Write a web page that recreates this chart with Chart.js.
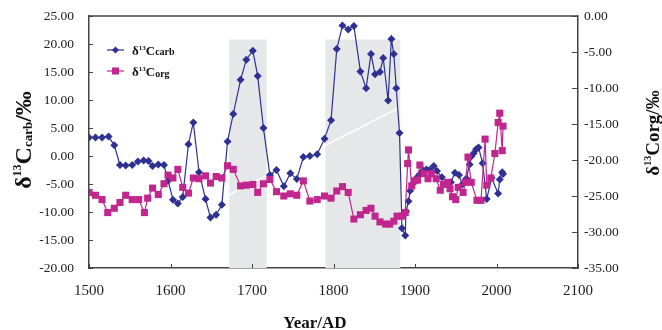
<!DOCTYPE html>
<html>
<head>
<meta charset="utf-8">
<script src="https://cdn.jsdelivr.net/npm/chart.js@4.4.1/dist/chart.umd.min.js"></script>
<style>
  html, body { margin: 0; padding: 0; background: #fff; }
  #wrap { width: 662px; height: 330px; }
</style>
</head>
<body>
<div id="wrap"><canvas id="myChart" width="662" height="330"></canvas></div>
<script>
// d13C carb (left axis)
var carbYear = [1500, 1508, 1516, 1524, 1531, 1538, 1545, 1553, 1560, 1567, 1573, 1578, 1585, 1592, 1597, 1603, 1609, 1615, 1622, 1628,
  1635, 1643, 1649, 1656, 1663, 1670, 1677, 1686, 1693, 1701, 1707, 1714, 1722, 1730, 1739, 1747, 1755, 1763, 1771, 1780,
  1789, 1797, 1804, 1811, 1818, 1825, 1833, 1840, 1846, 1851, 1857, 1861, 1867, 1871, 1874, 1877, 1881, 1884, 1888, 1889,
  1892, 1894, 1898, 1902, 1906, 1910, 1914, 1918, 1923, 1927, 1933, 1939, 1944, 1949, 1954, 1958, 1963, 1967, 1969, 1972,
  1975, 1978, 1983, 1988, 1994, 2002, 2004, 2007, 2008];
var carbValue = [3.3, 3.3, 3.3, 3.5, 1.9, -1.6, -1.7, -1.6, -1.0, -0.8, -0.9, -1.8, -1.5, -1.6, -4.4, -7.8, -8.5, -7.3, 2.1, 6.0,
  -2.9, -7.7, -11.0, -10.5, -8.7, 2.6, 7.5, 13.6, 17.2, 18.8, 14.3, 5.0, -3.4, -2.5, -5.4, -3.1, -4.1, -0.2, 0.0, 0.3,
  3.1, 6.4, 19.1, 23.3, 22.6, 23.2, 15.1, 12.1, 18.2, 14.6, 15.0, 17.5, 9.9, 20.9, 18.2, 12.1, 4.1, -12.9, -14.2, -9.9,
  -8.1, -6.2, -4.8, -3.9, -3.2, -2.6, -2.4, -2.5, -1.8, -2.7, -3.8, -4.8, -4.7, -3.0, -3.4, -5.1, -4.0, -1.5, -0.1, 0.5,
  1.2, 1.5, -1.3, -7.7, -3.9, -6.7, -4.2, -2.9, -3.2];

// d13C org (right axis)
var orgYear = [1500, 1508, 1516, 1523, 1531, 1538, 1545, 1553, 1561, 1568, 1572, 1578, 1585, 1592, 1597, 1603, 1609, 1615, 1622, 1628,
  1635, 1643, 1649, 1656, 1663, 1670, 1677, 1686, 1693, 1701, 1707, 1714, 1722, 1730, 1739, 1747, 1755, 1763, 1771, 1780,
  1789, 1797, 1804, 1811, 1818, 1825, 1833, 1840, 1846, 1851, 1857, 1864, 1869, 1874, 1878, 1884, 1888, 1891, 1892, 1896,
  1899, 1903, 1906, 1911, 1916, 1920, 1926, 1931, 1935, 1940, 1943, 1946, 1950, 1953, 1959, 1962, 1965, 1969, 1976, 1981,
  1986, 1988, 1993, 1998, 2002, 2004, 2007, 2008];
var orgValue = [-24.5, -24.9, -25.5, -27.3, -26.7, -25.9, -24.9, -25.5, -25.5, -27.3, -25.3, -23.9, -24.8, -23.3, -22.1, -22.5, -21.3, -23.8, -24.6, -22.5,
  -22.6, -22.2, -23.2, -22.3, -22.5, -20.8, -21.3, -23.6, -23.5, -23.4, -24.5, -23.3, -22.7, -24.4, -25.0, -24.7, -24.9, -22.9, -25.7, -25.5,
  -25.0, -25.3, -24.3, -23.7, -24.5, -28.2, -27.6, -27.0, -26.7, -27.8, -28.6, -28.9, -28.9, -28.5, -27.8, -27.8, -27.3, -20.5, -18.6, -23.6,
  -22.9, -22.8, -20.7, -21.9, -22.6, -21.9, -22.6, -24.2, -23.4, -23.1, -24.0, -25.1, -25.5, -23.8, -24.5, -23.1, -19.6, -23.1, -25.6, -25.6,
  -17.1, -23.5, -22.5, -19.1, -14.8, -13.5, -18.7, -15.3];

// white trend line and grey periods
var trendYear = [1671, 1880];
var trendValue = [-7.0, 8.6];
var shadeStart = [1672, 1790];
var shadeEnd = [1718, 1882];
var shadeTop = 20.8;

var xTicks = [1500, 1600, 1700, 1800, 1900, 2000, 2100];
var leftTicks = [-20, -15, -10, -5, 0, 5, 10, 15, 20, 25];
var rightTicks = [-35, -30, -25, -20, -15, -10, -5, 0];

var carbColor = '#2e3192';
var orgColor = '#c0268e';
var axisColor = '#444';
var SERIF = '"Liberation Serif", "DejaVu Serif", serif';

function pts(xs, ys) {
  return xs.map(function (x, i) { return { x: x, y: ys[i] }; });
}
function fnt(size, weight) {
  return (weight || 'normal') + ' ' + size + 'px ' + SERIF;
}
// draw text made of pieces (sup/sub), returns width
function richText(ctx, parts, x, y, measureOnly) {
  var w = 0;
  parts.forEach(function (p) {
    ctx.font = fnt(p.size, 'bold');
    if (!measureOnly) ctx.fillText(p.t, x + w, y + (p.dy || 0));
    w += ctx.measureText(p.t).width;
  });
  return w;
}

var shadePlugin = {
  id: 'shade',
  beforeDatasetsDraw: function (chart) {
    var ctx = chart.ctx, xs = chart.scales.x, ys = chart.scales.y, area = chart.chartArea;
    ctx.save();
    ctx.fillStyle = '#e6e7e8';
    for (var i = 0; i < shadeStart.length; i++) {
      var x0 = xs.getPixelForValue(shadeStart[i]);
      var x1 = xs.getPixelForValue(shadeEnd[i]);
      var yt = ys.getPixelForValue(shadeTop);
      ctx.fillRect(x0, yt, x1 - x0, area.bottom - yt);
    }
    ctx.restore();
  }
};

var decoPlugin = {
  id: 'deco',
  afterDraw: function (chart) {
    var ctx = chart.ctx, a = chart.chartArea;
    var xs = chart.scales.x, ys = chart.scales.y, y2 = chart.scales.y2;
    ctx.save();
    // frame top + inward ticks
    ctx.strokeStyle = axisColor;
    ctx.lineWidth = 1.5;
    ctx.beginPath();
    ctx.moveTo(a.left, a.top);
    ctx.lineTo(a.right, a.top);
    ctx.stroke();
    ctx.lineWidth = 1;
    ctx.beginPath();
    xTicks.forEach(function (v) {
      var px = Math.round(xs.getPixelForValue(v)) + 0.5;
      ctx.moveTo(px, a.bottom);
      ctx.lineTo(px, a.bottom - 4);
    });
    leftTicks.forEach(function (v) {
      var py = Math.round(ys.getPixelForValue(v)) + 0.5;
      ctx.moveTo(a.left, py);
      ctx.lineTo(a.left + 4, py);
    });
    rightTicks.forEach(function (v) {
      var py = Math.round(y2.getPixelForValue(v)) + 0.5;
      ctx.moveTo(a.right, py);
      ctx.lineTo(a.right - 6, py);
    });
    ctx.stroke();

    // legend
    var rows = [
      { y: 50, color: carbColor, style: 'diamond', parts: [{ t: '\u03b4', size: 13 }, { t: '13', size: 7, dy: -5 }, { t: 'C', size: 13 }, { t: 'carb', size: 10 }] },
      { y: 71, color: orgColor, style: 'square', parts: [{ t: '\u03b4', size: 13 }, { t: '13', size: 7, dy: -5 }, { t: 'C', size: 13 }, { t: 'org', size: 10, dy: 1 }] }
    ];
    rows.forEach(function (r) {
      ctx.strokeStyle = r.color;
      ctx.fillStyle = r.color;
      ctx.lineWidth = 1.2;
      ctx.beginPath();
      ctx.moveTo(107, r.y);
      ctx.lineTo(124, r.y);
      ctx.stroke();
      ctx.beginPath();
      if (r.style === 'diamond') {
        ctx.moveTo(115.5, r.y - 3.5); ctx.lineTo(119, r.y); ctx.lineTo(115.5, r.y + 3.5); ctx.lineTo(112, r.y);
        ctx.closePath(); ctx.fill();
      } else {
        ctx.fillRect(112, r.y - 3.5, 7, 7);
      }
      ctx.fillStyle = '#111';
      ctx.textBaseline = 'alphabetic';
      ctx.textAlign = 'left';
      richText(ctx, r.parts, 132, r.y + 5);
    });

    // axis titles
    ctx.fillStyle = '#111';
    ctx.textBaseline = 'alphabetic';
    ctx.textAlign = 'left';
    var lt = [{ t: '\u03b4', size: 24 }, { t: '13', size: 12, dy: -10 }, { t: 'C', size: 24 }, { t: 'carb', size: 13, dy: 1 }, { t: '/\u2030', size: 24 }];
    ctx.save();
    ctx.translate(31, 140);
    ctx.rotate(-Math.PI / 2);
    var w = richText(ctx, lt, 0, 0, true);
    richText(ctx, lt, -w / 2, 0);
    ctx.restore();

    var rt = [{ t: '\u03b4', size: 19 }, { t: '13', size: 10, dy: -8 }, { t: 'Corg/\u2030', size: 19 }];
    ctx.save();
    ctx.translate(659, 133);
    ctx.rotate(-Math.PI / 2);
    w = richText(ctx, rt, 0, 0, true);
    richText(ctx, rt, -w / 2, 0);
    ctx.restore();

    ctx.font = fnt(17, 'bold');
    ctx.textAlign = 'center';
    ctx.fillText('Year/AD', 315, 328);
    ctx.restore();
  }
};

function noVPad(s, width) {
  s.width = width;
  s.paddingTop = 0;
  s.paddingBottom = 0;
}

new Chart(document.getElementById('myChart'), {
  type: 'line',
  data: {
    datasets: [
      {
        label: '\u03b413Ccarb',
        data: pts(carbYear, carbValue),
        yAxisID: 'y',
        borderColor: carbColor,
        backgroundColor: carbColor,
        borderWidth: 1.2,
        pointStyle: 'rectRot',
        pointRadius: 4,
        pointBorderWidth: 0,
        order: 1
      },
      {
        label: '\u03b413Corg',
        data: pts(orgYear, orgValue),
        yAxisID: 'y2',
        borderColor: orgColor,
        backgroundColor: orgColor,
        borderWidth: 1.2,
        pointStyle: 'rect',
        pointRadius: 5,
        pointBorderWidth: 0,
        order: 0
      },
      {
        label: 'trend',
        data: pts(trendYear, trendValue),
        yAxisID: 'y',
        borderColor: '#ffffff',
        borderWidth: 1.5,
        pointRadius: 0,
        order: 2
      }
    ]
  },
  options: {
    responsive: false,
    animation: false,
    devicePixelRatio: 1,
    layout: { padding: { top: 16, left: 0, right: 0, bottom: 0 } },
    plugins: { legend: { display: false }, tooltip: { enabled: false } },
    scales: {
      x: {
        type: 'linear',
        min: 1500,
        max: 2100,
        afterBuildTicks: function (s) { s.ticks = xTicks.map(function (v) { return { value: v }; }); },
        afterFit: function (s) { s.height = 62; s.paddingLeft = 0; s.paddingRight = 0; },
        ticks: { font: { family: SERIF, size: 15 }, color: '#222', padding: 14, maxRotation: 0, callback: function (v) { return v; } },
        grid: { display: false, drawTicks: false },
        border: { display: true, color: axisColor, width: 1.5 }
      },
      y: {
        position: 'left',
        min: -20,
        max: 25,
        afterBuildTicks: function (s) { s.ticks = leftTicks.map(function (v) { return { value: v }; }); },
        afterFit: function (s) { noVPad(s, 89); },
        ticks: { font: { family: SERIF, size: 13.5 }, color: '#222', padding: 15, callback: function (v) { return v.toFixed(2); } },
        grid: { display: false, drawTicks: false },
        border: { display: true, color: axisColor, width: 1.5 }
      },
      y2: {
        position: 'right',
        min: -35,
        max: 0,
        afterBuildTicks: function (s) { s.ticks = rightTicks.map(function (v) { return { value: v }; }); },
        afterFit: function (s) { noVPad(s, 84); },
        ticks: { font: { family: SERIF, size: 13.5 }, color: '#222', padding: 6, callback: function (v) { return v.toFixed(2); } },
        grid: { display: false, drawTicks: false },
        border: { display: true, color: axisColor, width: 1.5 }
      }
    }
  },
  plugins: [shadePlugin, decoPlugin]
});
</script>
</body>
</html>
